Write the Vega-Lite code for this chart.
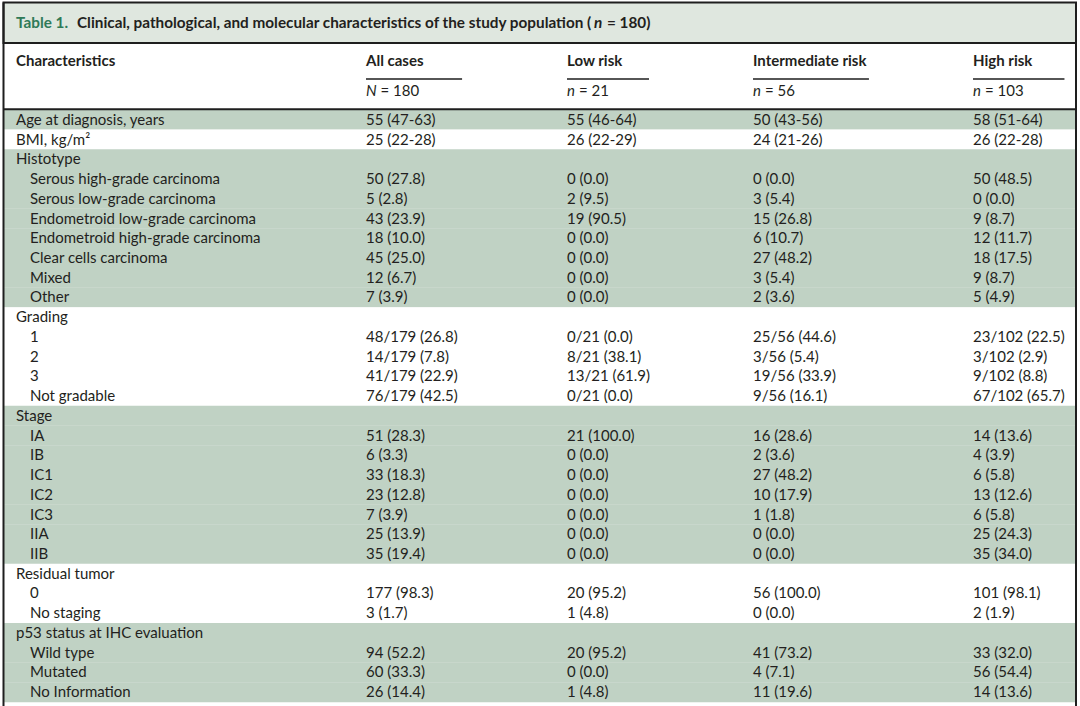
{
"$schema":"https://vega.github.io/schema/vega-lite/v6.json",
"width":1080,"height":706,
"autosize":{"type":"fit","contains":"padding"},
"padding":0,
"background":"#ffffff",
"config":{"view":{"stroke":null},"text":{"font":"Lato","fontSize":15,"fill":"#231f20","baseline":"middle","align":"left"}},
"datasets":{
"rows":[
{"line":3,"label":"Age at diagnosis, years","indent":0,"group":"Age","all":"55 (47-63)","low":"55 (46-64)","inter":"50 (43-56)","high":"58 (51-64)"},
{"line":4,"label":"BMI, kg/m²","indent":0,"group":"BMI","all":"25 (22-28)","low":"26 (22-29)","inter":"24 (21-26)","high":"26 (22-28)"},
{"line":5,"label":"Histotype","indent":0,"group":"Histotype","all":"","low":"","inter":"","high":""},
{"line":6,"label":"Serous high-grade carcinoma","indent":1,"group":"Histotype","all":"50 (27.8)","low":"0 (0.0)","inter":"0 (0.0)","high":"50 (48.5)"},
{"line":7,"label":"Serous low-grade carcinoma","indent":1,"group":"Histotype","all":"5 (2.8)","low":"2 (9.5)","inter":"3 (5.4)","high":"0 (0.0)"},
{"line":8,"label":"Endometroid low-grade carcinoma","indent":1,"group":"Histotype","all":"43 (23.9)","low":"19 (90.5)","inter":"15 (26.8)","high":"9 (8.7)"},
{"line":9,"label":"Endometroid high-grade carcinoma","indent":1,"group":"Histotype","all":"18 (10.0)","low":"0 (0.0)","inter":"6 (10.7)","high":"12 (11.7)"},
{"line":10,"label":"Clear cells carcinoma","indent":1,"group":"Histotype","all":"45 (25.0)","low":"0 (0.0)","inter":"27 (48.2)","high":"18 (17.5)"},
{"line":11,"label":"Mixed","indent":1,"group":"Histotype","all":"12 (6.7)","low":"0 (0.0)","inter":"3 (5.4)","high":"9 (8.7)"},
{"line":12,"label":"Other","indent":1,"group":"Histotype","all":"7 (3.9)","low":"0 (0.0)","inter":"2 (3.6)","high":"5 (4.9)"},
{"line":13,"label":"Grading","indent":0,"group":"Grading","all":"","low":"","inter":"","high":""},
{"line":14,"label":"1","indent":1,"group":"Grading","all":"48/179 (26.8)","low":"0/21 (0.0)","inter":"25/56 (44.6)","high":"23/102 (22.5)"},
{"line":15,"label":"2","indent":1,"group":"Grading","all":"14/179 (7.8)","low":"8/21 (38.1)","inter":"3/56 (5.4)","high":"3/102 (2.9)"},
{"line":16,"label":"3","indent":1,"group":"Grading","all":"41/179 (22.9)","low":"13/21 (61.9)","inter":"19/56 (33.9)","high":"9/102 (8.8)"},
{"line":17,"label":"Not gradable","indent":1,"group":"Grading","all":"76/179 (42.5)","low":"0/21 (0.0)","inter":"9/56 (16.1)","high":"67/102 (65.7)"},
{"line":18,"label":"Stage","indent":0,"group":"Stage","all":"","low":"","inter":"","high":""},
{"line":19,"label":"IA","indent":1,"group":"Stage","all":"51 (28.3)","low":"21 (100.0)","inter":"16 (28.6)","high":"14 (13.6)"},
{"line":20,"label":"IB","indent":1,"group":"Stage","all":"6 (3.3)","low":"0 (0.0)","inter":"2 (3.6)","high":"4 (3.9)"},
{"line":21,"label":"IC1","indent":1,"group":"Stage","all":"33 (18.3)","low":"0 (0.0)","inter":"27 (48.2)","high":"6 (5.8)"},
{"line":22,"label":"IC2","indent":1,"group":"Stage","all":"23 (12.8)","low":"0 (0.0)","inter":"10 (17.9)","high":"13 (12.6)"},
{"line":23,"label":"IC3","indent":1,"group":"Stage","all":"7 (3.9)","low":"0 (0.0)","inter":"1 (1.8)","high":"6 (5.8)"},
{"line":24,"label":"IIA","indent":1,"group":"Stage","all":"25 (13.9)","low":"0 (0.0)","inter":"0 (0.0)","high":"25 (24.3)"},
{"line":25,"label":"IIB","indent":1,"group":"Stage","all":"35 (19.4)","low":"0 (0.0)","inter":"0 (0.0)","high":"35 (34.0)"},
{"line":26,"label":"Residual tumor","indent":0,"group":"Residual","all":"","low":"","inter":"","high":""},
{"line":27,"label":"0","indent":1,"group":"Residual","all":"177 (98.3)","low":"20 (95.2)","inter":"56 (100.0)","high":"101 (98.1)"},
{"line":28,"label":"No staging","indent":1,"group":"Residual","all":"3 (1.7)","low":"1 (4.8)","inter":"0 (0.0)","high":"2 (1.9)"},
{"line":29,"label":"p53 status at IHC evaluation","indent":0,"group":"p53","all":"","low":"","inter":"","high":""},
{"line":30,"label":"Wild type","indent":1,"group":"p53","all":"94 (52.2)","low":"20 (95.2)","inter":"41 (73.2)","high":"33 (32.0)"},
{"line":31,"label":"Mutated","indent":1,"group":"p53","all":"60 (33.3)","low":"0 (0.0)","inter":"4 (7.1)","high":"56 (54.4)"},
{"line":32,"label":"No Information","indent":1,"group":"p53","all":"26 (14.4)","low":"1 (4.8)","inter":"11 (19.6)","high":"14 (13.6)"}
],
"cols":[
{"col":0,"head":"Characteristics","nvar":"","count":""},
{"col":1,"head":"All cases","nvar":"N","count":"= 180"},
{"col":2,"head":"Low risk","nvar":"n","count":"= 21"},
{"col":3,"head":"Intermediate risk","nvar":"n","count":"= 56"},
{"col":4,"head":"High risk","nvar":"n","count":"= 103"}
],
"title":[{"t1":"Table 1.","t2":"Clinical, pathological, and molecular characteristics of the study population (","t3":"n","t4":"= 180)"}],
"frame":[{"k":1}]
},
"layer":[
{"data":{"name":"frame"},"mark":{"type":"rect","fill":"#dfe7df","stroke":"#1e1e1e","strokeWidth":2},
 "encoding":{"x":{"datum":-1,"type":"quantitative","scale":{"type":"linear","domain":[-1,0,1,2,3,4,5],"range":[3.5,16,366,567,753,973,1076],"zero":false,"nice":false},"axis":null},"x2":{"datum":5},
 "y":{"datum":-0.5,"type":"quantitative","scale":{"type":"linear","domain":[-0.5,0,0.5,1,2,2.5,32.5],"range":[2.5,23,43,61,91,110,702],"zero":false,"nice":false},"axis":null},"y2":{"datum":0.5}}},
{"data":{"name":"rows"},"mark":{"type":"rect","yOffset":-10,"y2Offset":10},
 "encoding":{"x":{"datum":-1,"type":"quantitative","axis":null},"x2":{"datum":5},
 "y":{"field":"line","type":"quantitative","axis":null},"y2":{"field":"line"},
 "color":{"field":"group","type":"nominal","scale":{"domain":["Age","BMI","Histotype","Grading","Stage","Residual","p53"],"range":["#c0d2c4","#ffffff","#c0d2c4","#ffffff","#c0d2c4","#ffffff","#c0d2c4"]},"legend":null}}},
{"data":{"name":"frame"},"mark":{"type":"rule","stroke":"#1e1e1e","strokeWidth":2},
 "encoding":{"x":{"datum":-1,"type":"quantitative","axis":null},"y":{"datum":-0.5,"type":"quantitative","axis":null},"y2":{"datum":34}}},
{"data":{"name":"frame"},"mark":{"type":"rule","stroke":"#1e1e1e","strokeWidth":2},
 "encoding":{"x":{"datum":5,"type":"quantitative","axis":null},"y":{"datum":-0.5,"type":"quantitative","axis":null},"y2":{"datum":34}}},
{"data":{"name":"frame"},"mark":{"type":"rule","stroke":"#1e1e1e","strokeWidth":2},
 "encoding":{"x":{"datum":-1,"type":"quantitative","axis":null},"x2":{"datum":5},"y":{"datum":2.48,"type":"quantitative","axis":null}}},
{"data":{"name":"frame"},"mark":{"type":"rule","stroke":"#1e1e1e","strokeWidth":1.5},
 "encoding":{"x":{"datum":1,"type":"quantitative","axis":null},"x2":{"datum":1.478},"y":{"datum":1.6,"type":"quantitative","axis":null}}},
{"data":{"name":"frame"},"mark":{"type":"rule","stroke":"#1e1e1e","strokeWidth":1.5},
 "encoding":{"x":{"datum":2,"type":"quantitative","axis":null},"x2":{"datum":2.441},"y":{"datum":1.6,"type":"quantitative","axis":null}}},
{"data":{"name":"frame"},"mark":{"type":"rule","stroke":"#1e1e1e","strokeWidth":1.5},
 "encoding":{"x":{"datum":3,"type":"quantitative","axis":null},"x2":{"datum":3.527},"y":{"datum":1.6,"type":"quantitative","axis":null}}},
{"data":{"name":"frame"},"mark":{"type":"rule","stroke":"#1e1e1e","strokeWidth":1.5},
 "encoding":{"x":{"datum":4,"type":"quantitative","axis":null},"x2":{"datum":4.888},"y":{"datum":1.6,"type":"quantitative","axis":null}}},
{"data":{"name":"title"},"mark":{"type":"text","fontWeight":"bold","fontSize":15.3,"fill":"#2f7a58"},
 "encoding":{"x":{"datum":0,"type":"quantitative","axis":null},"y":{"datum":0,"type":"quantitative","axis":null},"text":{"field":"t1"}}},
{"data":{"name":"title"},"mark":{"type":"text","fontWeight":"bold","fontSize":15.3,"dx":61},
 "encoding":{"x":{"datum":0,"type":"quantitative","axis":null},"y":{"datum":0,"type":"quantitative","axis":null},"text":{"field":"t2"}}},
{"data":{"name":"title"},"mark":{"type":"text","fontWeight":"bold","fontSize":15.3,"fontStyle":"italic","dx":578},
 "encoding":{"x":{"datum":0,"type":"quantitative","axis":null},"y":{"datum":0,"type":"quantitative","axis":null},"text":{"field":"t3"}}},
{"data":{"name":"title"},"mark":{"type":"text","fontWeight":"bold","fontSize":15.3,"dx":591},
 "encoding":{"x":{"datum":0,"type":"quantitative","axis":null},"y":{"datum":0,"type":"quantitative","axis":null},"text":{"field":"t4"}}},
{"data":{"name":"cols"},"mark":{"type":"text","fontWeight":"bold"},
 "encoding":{"x":{"field":"col","type":"quantitative","axis":null},"y":{"datum":1,"type":"quantitative","axis":null},"text":{"field":"head"}}},
{"data":{"name":"cols"},"mark":{"type":"text","fontStyle":"italic"},
 "encoding":{"x":{"field":"col","type":"quantitative","axis":null},"y":{"datum":2,"type":"quantitative","axis":null},"text":{"field":"nvar"}}},
{"data":{"name":"cols"},"transform":[{"filter":"datum.col == 1"}],"mark":{"type":"text","dx":14.5},
 "encoding":{"x":{"field":"col","type":"quantitative","axis":null},"y":{"datum":2,"type":"quantitative","axis":null},"text":{"field":"count"}}},
{"data":{"name":"cols"},"transform":[{"filter":"datum.col > 1"}],"mark":{"type":"text","dx":12},
 "encoding":{"x":{"field":"col","type":"quantitative","axis":null},"y":{"datum":2,"type":"quantitative","axis":null},"text":{"field":"count"}}},
{"data":{"name":"rows"},"transform":[{"filter":"datum.indent == 0"}],"mark":{"type":"text"},
 "encoding":{"x":{"datum":0,"type":"quantitative","axis":null},"y":{"field":"line","type":"quantitative","axis":null},"text":{"field":"label"}}},
{"data":{"name":"rows"},"transform":[{"filter":"datum.indent == 1"}],"mark":{"type":"text","dx":14},
 "encoding":{"x":{"datum":0,"type":"quantitative","axis":null},"y":{"field":"line","type":"quantitative","axis":null},"text":{"field":"label"}}},
{"data":{"name":"rows"},"mark":{"type":"text"},
 "encoding":{"x":{"datum":1,"type":"quantitative","axis":null},"y":{"field":"line","type":"quantitative","axis":null},"text":{"field":"all"}}},
{"data":{"name":"rows"},"mark":{"type":"text"},
 "encoding":{"x":{"datum":2,"type":"quantitative","axis":null},"y":{"field":"line","type":"quantitative","axis":null},"text":{"field":"low"}}},
{"data":{"name":"rows"},"mark":{"type":"text"},
 "encoding":{"x":{"datum":3,"type":"quantitative","axis":null},"y":{"field":"line","type":"quantitative","axis":null},"text":{"field":"inter"}}},
{"data":{"name":"rows"},"mark":{"type":"text"},
 "encoding":{"x":{"datum":4,"type":"quantitative","axis":null},"y":{"field":"line","type":"quantitative","axis":null},"text":{"field":"high"}}}
]
}
